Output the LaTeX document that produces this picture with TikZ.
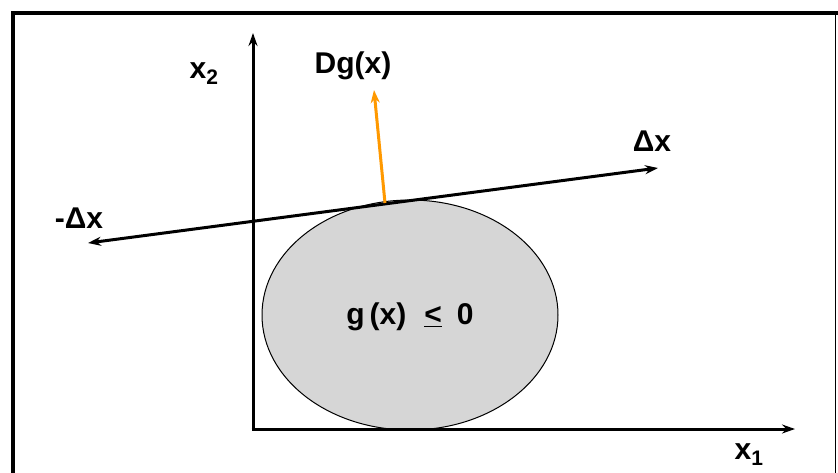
\documentclass[tikz,border=0pt]{standalone}
\usepackage{fontspec}
\setmainfont{Liberation Sans}
\usetikzlibrary{arrows.meta,shapes.geometric}
\definecolor{dgorange}{HTML}{FF9900}
\definecolor{regiongray}{HTML}{D6D6D6}
\tikzset{
  axisline/.style={line width=3pt,-{Stealth[length=13pt,width=9pt]}},
  dirline/.style={line width=3pt,-{Stealth[length=13pt,width=9pt]}},
  gradline/.style={line width=3pt,draw=dgorange,-{Stealth[length=13pt,width=9pt]}},
  lbl/.style={font=\fontsize{30}{34}\selectfont\bfseries,inner sep=0pt},
}
\begin{document}
\begin{tikzpicture}[x=1pt,y=-1pt]
\useasboundingbox (0,0) rectangle (838,472);
\fill[white] (0,0) rectangle (838,472);
% frame
\draw[line width=4pt] (13,490) -- (13,13) -- (838,13);
\draw[line width=1.5pt] (835.5,13) -- (835.5,490);
% region
\node[ellipse, draw, line width=1pt, fill=regiongray, minimum width=296pt, minimum height=230pt, inner sep=0pt] (g) at (410,315) {};
\node[lbl] (gl) at (410,317) {g\,(x)\hspace{0.6em}\underline{<}\hspace{0.5em}0};
% axes
\coordinate (o) at (253,429);
\coordinate (ytip) at (253,33);
\coordinate (xtip) at (795,429);
\draw[axisline] (o) -- (ytip);
\draw[axisline] ([xshift=-1.5pt]o) -- (xtip);
\node[lbl] (x2) at (204,74) {x\textsubscript{2}};
\node[lbl] (x1) at (749,455) {x\textsubscript{1}};
% direction line
\coordinate (neg) at (88,243);
\coordinate (pos) at (658,168);
\draw[dirline,{Stealth[length=13pt,width=9pt]}-{Stealth[length=13pt,width=9pt]}] (neg) -- (pos);
\node[lbl] (px) at (652,141) {Δx};
\node[lbl] (nx) at (79,218) {-Δx};
% gradient
\coordinate (t) at (385,203);
\coordinate (gtip) at (374,90);
\draw[gradline] (t) -- (gtip);
\node[lbl] (dg) at (353,66) {Dg(x)};
\end{tikzpicture}
\end{document}
